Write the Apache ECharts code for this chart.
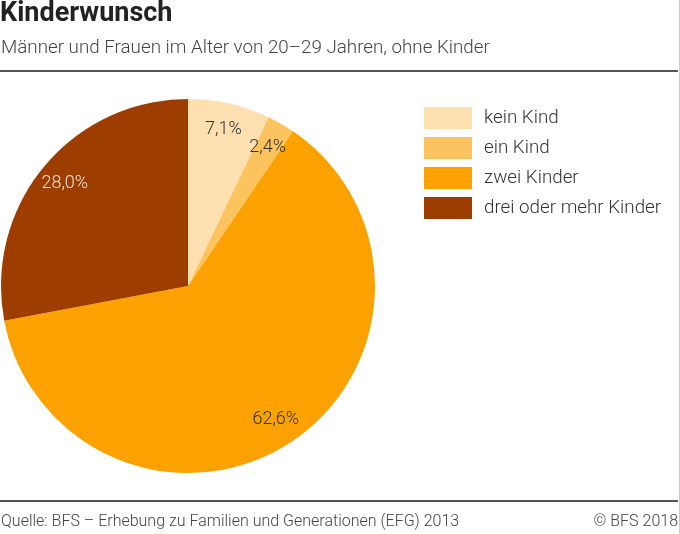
<!DOCTYPE html>
<html>
<head>
<meta charset="utf-8">
<script src="https://cdn.jsdelivr.net/npm/echarts@6/dist/echarts.min.js"></script>
<style>
html,body{margin:0;padding:0;background:#fff;}
#chart{width:680px;height:534px;}
</style>
</head>
<body>
<div id="chart"></div>
<script>
const title = 'Kinderwunsch';
const subtitle = 'Männer und Frauen im Alter von 20–29 Jahren, ohne Kinder';
const source = 'Quelle: BFS – Erhebung zu Familien und Generationen (EFG) 2013';
const copyright = '© BFS 2018';
const categories = ['kein Kind', 'ein Kind', 'zwei Kinder', 'drei oder mehr Kinder'];
const values = [7.1, 2.4, 62.6, 28.0];
const colors = ['#FEDFB0', '#FDC35F', '#FBA100', '#9D3D00'];
const labelColors = ['#333333', '#333333', '#333333', '#F5E3D2'];

const fmt = v => v.toFixed(1).replace('.', ',') + '%';

const chart = echarts.init(document.getElementById('chart'), null, {renderer: 'canvas'});
const FONT = 'Roboto, "Noto Sans", sans-serif';

const dataMain = categories.map((c, i) => ({name: c, value: values[i], itemStyle: {color: colors[i]}}));
const dataLabel = categories.map((c, i) => ({
  name: c, value: values[i],
  itemStyle: {color: 'rgba(0,0,0,0)'},
  label: {color: labelColors[i]}
}));

chart.setOption({
  animation: false,
  backgroundColor: '#ffffff',
  title: [
    {text: title, left: 0, top: 1, padding: 0,
     textStyle: {fontFamily: FONT, fontSize: 27, fontWeight: 'bold', color: '#222'}},
    {text: subtitle, left: 1, top: 39, padding: 0,
     textStyle: {fontFamily: FONT, fontSize: 18.8, fontWeight: 300, color: '#444'}},
    {text: source, left: 1, top: 514, padding: 0,
     textStyle: {fontFamily: FONT, fontSize: 16, fontWeight: 300, color: '#444'}},
    {text: copyright, right: 2, top: 514, padding: 0,
     textStyle: {fontFamily: FONT, fontSize: 16, fontWeight: 300, color: '#444'}}
  ],
  graphic: [
    {type: 'line', shape: {x1: 0, y1: 71, x2: 678, y2: 71}, style: {stroke: '#555', lineWidth: 2}},
    {type: 'line', shape: {x1: 0, y1: 501, x2: 678, y2: 501}, style: {stroke: '#555', lineWidth: 2}},
    {type: 'line', shape: {x1: 679.5, y1: 0, x2: 679.5, y2: 534}, style: {stroke: '#ccc', lineWidth: 1}}
  ],
  legend: {
    orient: 'vertical',
    left: 424, top: 107,
    padding: 0,
    itemWidth: 48, itemHeight: 22, itemGap: 8,
    icon: 'rect',
    selectedMode: false,
    data: categories.map((c, i) => ({name: c, itemStyle: {color: colors[i], opacity: 1}})),
    textStyle: {fontFamily: FONT, fontSize: 18.8, fontWeight: 300, color: '#333', padding: [0, 0, 0, 7]}
  },
  series: [
    {
      type: 'pie',
      center: [188, 286],
      radius: [0, 187],
      startAngle: 90,
      clockwise: true,
      silent: true,
      label: {show: false},
      labelLine: {show: false},
      itemStyle: {borderWidth: 0},
      data: dataMain
    },
    {
      type: 'pie',
      center: [188, 286],
      radius: [127, 187],
      startAngle: 90,
      clockwise: true,
      silent: true,
      legendHoverLink: false,
      label: {
        show: true, position: 'inside',
        fontFamily: FONT, fontSize: 18, fontWeight: 300,
        formatter: p => fmt(p.value)
      },
      labelLine: {show: false},
      data: dataLabel
    }
  ]
});
</script>
</body>
</html>
